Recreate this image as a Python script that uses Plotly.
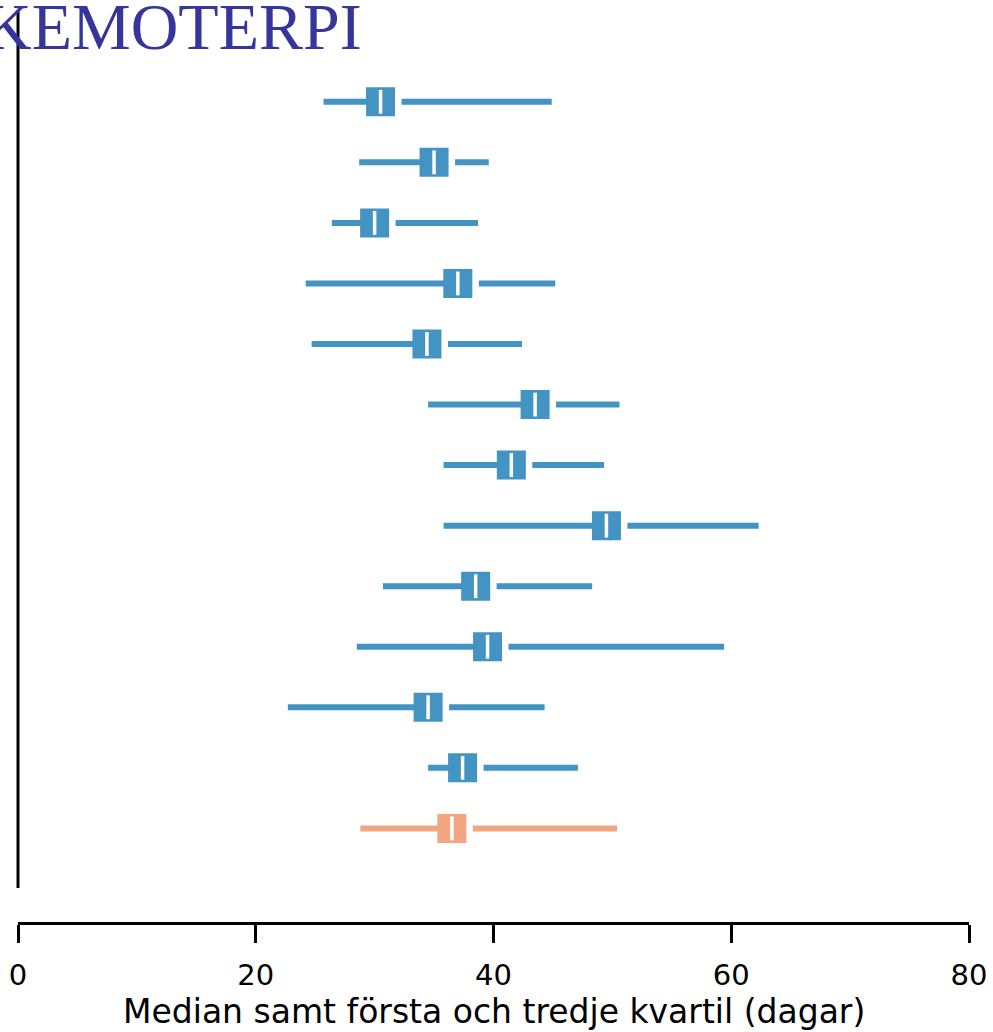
import plotly.graph_objects as go

# ---- data (days): first quartile, median, third quartile per row (top to bottom)
q1 = [25.7, 28.7, 26.4, 24.2, 24.7, 34.5, 35.8, 35.8, 30.7, 28.5, 22.7, 34.5, 28.8]
median = [30.5, 35.0, 30.0, 37.0, 34.4, 43.5, 41.5, 49.5, 38.5, 39.5, 34.5, 37.4, 36.5]
q3 = [44.9, 39.6, 38.7, 45.2, 42.4, 50.6, 49.3, 62.3, 48.3, 59.4, 44.3, 47.1, 50.4]
group = ["region"] * 12 + ["riket"]
x_ticks = [0, 20, 40, 60, 80]

title_text = "KEMOTERPI"
x_title = "Median samt första och tredje kvartil (dagar)"

BLUE = "#4393C3"
ORANGE = "#F4A582"
colors = {"region": BLUE, "riket": ORANGE}

PX_PER_UNIT = 11.9
GAP_UNITS = 21 / PX_PER_UNIT  # gap right of median box (style offset)

fig = go.Figure()

for g in ["region", "riket"]:
    idx = [i for i in range(len(q1)) if group[i] == g]
    xs, ys = [], []
    for i in idx:
        xs += [q1[i], median[i], None, median[i] + GAP_UNITS, q3[i], None]
        ys += [i, i, None, i, i, None]
    fig.add_trace(go.Scatter(
        x=xs, y=ys, mode="lines",
        line=dict(color=colors[g], width=6),
        hoverinfo="skip", showlegend=False,
    ))
    fig.add_trace(go.Scatter(
        x=[median[i] for i in idx], y=idx, mode="markers",
        marker=dict(symbol="square", size=26, color=colors[g],
                    line=dict(color=colors[g], width=3)),
        showlegend=False,
    ))
    fig.add_trace(go.Scatter(
        x=[median[i] for i in idx], y=idx, mode="markers",
        marker=dict(symbol="line-ns", size=17, color="white",
                    line=dict(color="white", width=3.5)),
        hoverinfo="skip", showlegend=False,
    ))

# vertical reference line (left), at x = 0 on the paper edge of the plot area
fig.add_shape(type="line", xref="paper", yref="paper",
              x0=0, x1=0, y0=(922 - 888) / 912, y1=1.0,
              line=dict(color="black", width=3))

fig.add_annotation(
    text=title_text, xref="paper", yref="paper",
    x=(364 - 18) / 951, y=(922 - 27) / 912,
    xanchor="right", yanchor="middle", showarrow=False,
    font=dict(family="Liberation Serif", size=66, color="#35359B"),
)

# x-axis title placed as an annotation for exact vertical placement
fig.add_annotation(
    text=x_title, xref="paper", yref="paper",
    x=0.5, y=(922 - 1011) / 912,
    xanchor="center", yanchor="middle", showarrow=False,
    font=dict(family="DejaVu Sans", size=33, color="black"),
)

fig.update_layout(
    width=993, height=1032,
    margin=dict(l=18, r=24, t=10, b=110, autoexpand=False),
    paper_bgcolor="white", plot_bgcolor="white",
    xaxis=dict(
        range=[0, 80], tickvals=x_ticks, ticktext=[str(t) for t in x_ticks],
        showgrid=False, zeroline=False, automargin=False,
        showline=True, linecolor="black", linewidth=3,
        ticks="outside", ticklen=18, tickwidth=3, tickcolor="black",
        ticklabelstandoff=7,
        tickfont=dict(family="DejaVu Sans", size=29, color="black"),
    ),
    yaxis=dict(
        range=[13.546, -1.516], showgrid=False, zeroline=False,
        showline=False, showticklabels=False, ticks="", automargin=False,
    ),
)

fig.write_html("out.html")
